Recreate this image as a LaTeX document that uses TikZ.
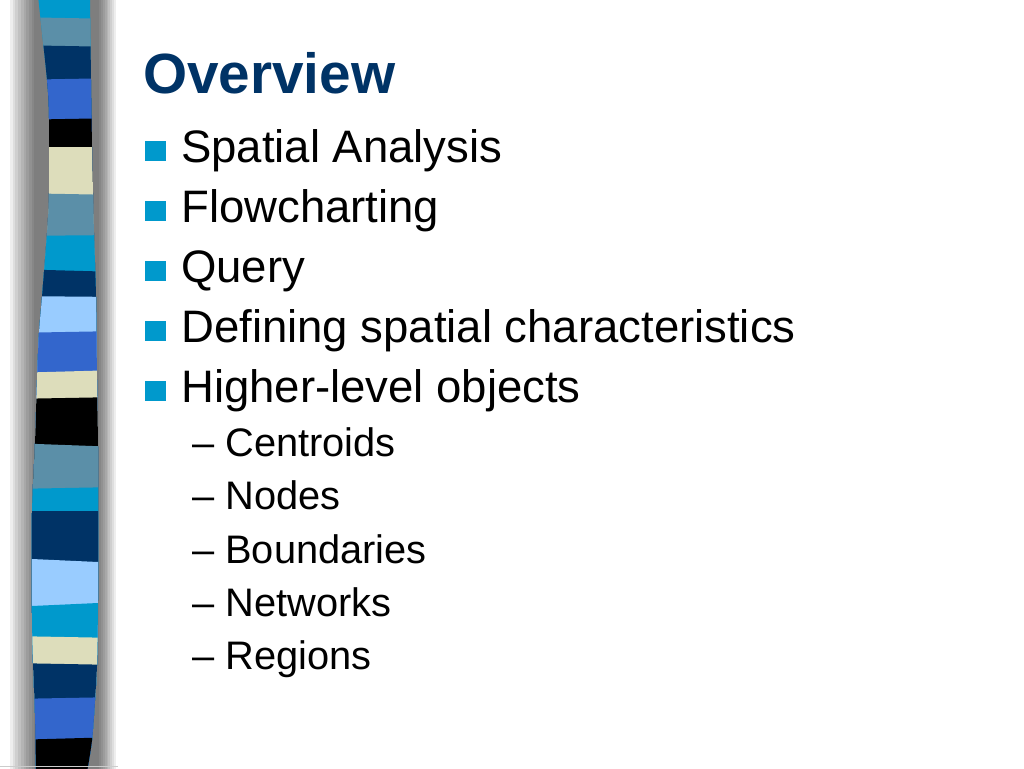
\documentclass[tikz,border=0pt]{standalone}
\usepackage{fontspec}
\setmainfont{Liberation Sans}
\definecolor{titleblue}{HTML}{003366}
\definecolor{bulletcyan}{HTML}{0099CC}
\definecolor{bandcyan}{HTML}{0099CC}
\definecolor{bandsteel}{HTML}{5B8FA8}
\definecolor{bandnavy}{HTML}{003366}
\definecolor{bandroyal}{HTML}{3366CC}
\definecolor{bandblack}{HTML}{000000}
\definecolor{bandbeige}{HTML}{DDDDBB}
\definecolor{bandlight}{HTML}{99CCFF}
\tikzset{
  titletext/.style={anchor=base west, text=titleblue, font=\fontsize{56.7}{56.7}\selectfont\bfseries},
  itemtext/.style={anchor=base west, font=\fontsize{45.5}{45.5}\selectfont},
  subtext/.style={anchor=base west, font=\fontsize{39.8}{39.8}\selectfont},
  bulletbox/.style={anchor=south west, fill=bulletcyan, minimum width=21pt, minimum height=20pt}
}
\begin{document}
\begin{tikzpicture}[x=1pt,y=-1pt]
\tikzstyle{every node}+=[inner sep=0pt]
\useasboundingbox (0,0) rectangle (1024,768);
\fill [white] (0,0) rectangle (1024,768);
\foreach \k in {0,...,9}
  \fill [black, opacity=0.065] (10+2.7*\k,-10) rectangle (116-1.9*\k,778);
\begin{scope}
\clip plot [smooth] coordinates {(38,-4) (47,80) (49,118) (49,193) (47,233) (42,297) (39,333) (37,380) (35,443) (32,513) (32,613) (33,663) (35,713) (36,772)}
  -- plot [smooth] coordinates {(87,772) (92,740) (95,700) (97,665) (98,600) (98,513) (98,447) (97,380) (96,297) (94,233) (93,193) (92,147) (91,80) (90,-4)} -- cycle;
\foreach \col/\yl/\yr in {bandcyan/-5/-5, bandsteel/17/19, bandnavy/45/47, bandroyal/80/78,
  bandblack/120/118, bandbeige/147/147, bandsteel/193/195, bandcyan/236/235, bandnavy/269/272,
  bandlight/296/297, bandroyal/333/331, bandbeige/373/370, bandblack/399/397, bandsteel/443/447,
  bandcyan/489/487, bandnavy/511/511, bandlight/558/563, bandcyan/607/602, bandbeige/636/638,
  bandnavy/663/665, bandroyal/699/697, bandblack/740/737}
  \fill [\col] (10,\yl) -- (120,\yr) -- (120,800) -- (10,800) -- cycle;
\end{scope}
\draw [black!20, line width=1.5pt] (0,766.5) -- (118,766.5);
\node [titletext] (title) at (143,93) {Overview};
\foreach \txt [count=\i] in {Spatial Analysis, Flowcharting, Query, Defining spatial characteristics, Higher-level objects} {
  \node [bulletbox] (bullet\i) at (145,101+60*\i) {};
  \node [itemtext] (item\i) at (181,102+60*\i) {\txt};
}
\foreach \txt [count=\i] in {Centroids, Nodes, Boundaries, Networks, Regions}
  \node [subtext] (sub\i) at (192,403.3+53.33*\i) {-- \txt};
\end{tikzpicture}
\end{document}
